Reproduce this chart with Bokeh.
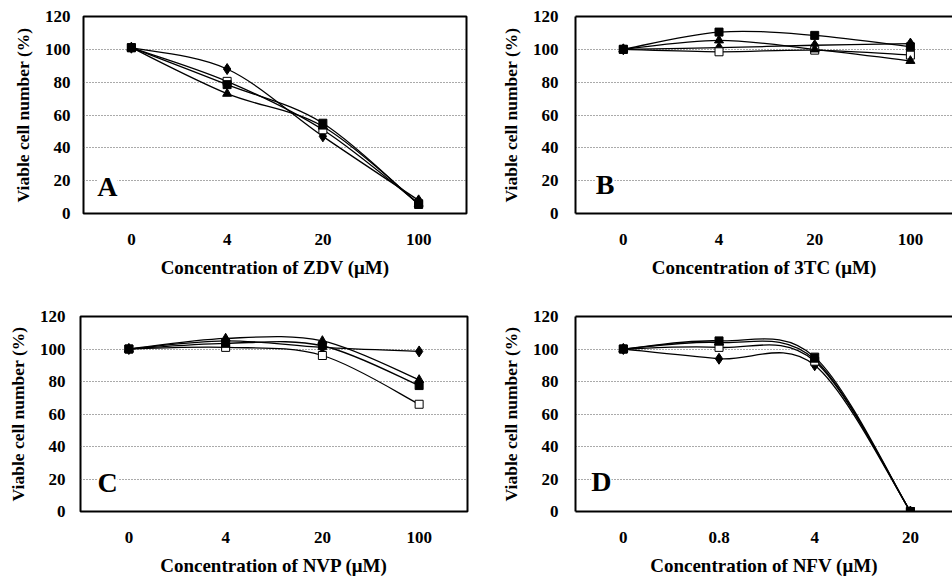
from bokeh.plotting import figure
from bokeh.layouts import column, row
from bokeh.models import FixedTicker, Range1d, Label, LinearAxis, ColumnDataSource
from bokeh.embed import file_html
from bokeh.resources import INLINE

# ---------------- data ----------------
y_ticks = [0, 20, 40, 60, 80, 100, 120]
grid_ticks = [20, 40, 60, 80, 100]

zdv_conc = ["0", "4", "20", "100"]
zdv_diamond = [101, 88, 47, 8]
zdv_open_sq = [101, 80.5, 51, 6]
zdv_filled_sq = [101, 78.5, 55, 5.5]
zdv_triangle = [101, 73, 53, 6]

tc_conc = ["0", "4", "20", "100"]
tc_diamond = [100, 101, 102.5, 103.5]
tc_open_sq = [100, 98.5, 99.5, 96.5]
tc_filled_sq = [100, 110.5, 108.5, 101.5]
tc_triangle = [100, 105.5, 100, 93]

nvp_conc = ["0", "4", "20", "100"]
nvp_diamond = [100, 105, 101, 98.5]
nvp_open_sq = [100, 101, 96, 66]
nvp_filled_sq = [100, 103.5, 102, 77.5]
nvp_triangle = [100, 106.5, 105, 81]

nfv_conc = ["0", "0.8", "4", "20"]
nfv_diamond = [100, 94, 90, 0]
nfv_open_sq = [100, 101, 92.5, 0]
nfv_filled_sq = [100, 105, 95, 0]
nfv_triangle = [100, 104, 93.5, 0]

FONT = "Liberation Serif"


def smooth_source(xs, ys, t=1.0 / 6.0):
    n = len(xs)
    d = dict(x0=[], y0=[], x1=[], y1=[], cx0=[], cy0=[], cx1=[], cy1=[])
    for i in range(n - 1):
        a = i - 1 if i > 0 else i
        b = i + 2 if i + 2 < n else i + 1
        d["x0"].append(xs[i]); d["y0"].append(ys[i])
        d["x1"].append(xs[i + 1]); d["y1"].append(ys[i + 1])
        d["cx0"].append(xs[i] + (xs[i + 1] - xs[a]) * t)
        d["cy0"].append(ys[i] + (ys[i + 1] - ys[a]) * t)
        d["cx1"].append(xs[i + 1] - (xs[b] - xs[i]) * t)
        d["cy1"].append(ys[i + 1] - (ys[b] - ys[i]) * t)
    return ColumnDataSource(d)


def panel(cats, series, xlabel, letter, lx, ly, width, height,
          bl, bt, bb, br, xend, open_right, ystand, xstand=20):
    xs = list(range(len(cats)))
    p = figure(width=width, height=height, output_backend="svg",
               toolbar_location=None, x_range=Range1d(-0.5, xend),
               y_range=Range1d(0, 120),
               min_border_left=bl, min_border_top=bt,
               min_border_bottom=bb, min_border_right=br)
    p.background_fill_color = "white"
    p.border_fill_color = "white"
    p.xgrid.visible = False
    p.ygrid.ticker = FixedTicker(ticks=grid_ticks)
    p.ygrid.grid_line_color = "#555555"
    p.ygrid.grid_line_dash = "1 2"
    p.ygrid.grid_line_width = 1

    for ax in (p.xaxis[0], p.yaxis[0]):
        ax.major_tick_line_color = None
        ax.minor_tick_line_color = None
        ax.major_tick_out = 0
        ax.major_label_text_font = FONT
        ax.major_label_text_font_style = "bold"
        ax.major_label_text_font_size = "17px"
        ax.major_label_text_color = "black"
        ax.axis_label_text_font = FONT
        ax.axis_label_text_font_style = "bold"
        ax.axis_label_text_color = "black"

    p.xaxis.ticker = FixedTicker(ticks=xs)
    p.xaxis.major_label_overrides = {i: c for i, c in enumerate(cats)}
    p.xaxis.axis_label = xlabel
    p.xaxis.axis_label_text_font_size = "19px"
    p.xaxis.major_label_standoff = xstand
    p.xaxis.axis_label_standoff = 9

    p.yaxis.ticker = FixedTicker(ticks=y_ticks)
    p.yaxis.axis_label = "Viable cell number (%)"
    p.yaxis.axis_label_text_font_size = "17.5px"
    p.yaxis.major_label_standoff = ystand
    p.yaxis.axis_label_standoff = 9

    if open_right:
        p.outline_line_color = None
        for ax in (p.xaxis[0], p.yaxis[0]):
            ax.axis_line_color = "black"
            ax.axis_line_width = 2
        top = LinearAxis(ticker=FixedTicker(ticks=[]), axis_line_width=2,
                         axis_line_color="black", major_tick_line_color=None,
                         minor_tick_line_color=None,
                         major_label_text_font_size="0px",
                         major_label_standoff=0)
        p.add_layout(top, "above")
    else:
        p.outline_line_color = "black"
        p.outline_line_width = 2
        p.xaxis.axis_line_color = None
        p.yaxis.axis_line_color = None

    p.add_layout(Label(x=lx, y=ly, text=letter, text_font=FONT,
                       text_font_style="bold", text_font_size="28px",
                       text_color="black",
                       text_align="center", text_baseline="middle",
                       background_fill_color="white"))

    styles = [
        ("diamond", 11, "black", "black"),
        ("square", 8, "white", "black"),
        ("square", 8, "black", "black"),
        ("triangle", 9, "black", "black"),
    ]
    for ys in series:
        src = smooth_source(xs, ys)
        p.bezier(x0="x0", y0="y0", x1="x1", y1="y1", cx0="cx0", cy0="cy0",
                 cx1="cx1", cy1="cy1", source=src, line_color="black",
                 line_width=1.3)
    for ys, (mk, sz, fill, line) in zip(series, styles):
        p.scatter(xs, ys, marker=mk, size=sz, fill_color=fill,
                  line_color=line, line_width=1)
    return p


pA = panel(zdv_conc, [zdv_diamond, zdv_open_sq, zdv_filled_sq, zdv_triangle],
           "Concentration of ZDV (\u03bcM)", "A", -0.25, 16.4,
           476, 290, 83, 15, 77, 10, 3.5, False, 13)
pB = panel(tc_conc, [tc_diamond, tc_open_sq, tc_filled_sq, tc_triangle],
           "Concentration of 3TC (\u03bcM)", "B", -0.19, 17.6,
           476, 290, 99, 16, 75, 0, 3.44, True, 17)
pC = panel(nvp_conc, [nvp_diamond, nvp_open_sq, nvp_filled_sq, nvp_triangle],
           "Concentration of NVP (\u03bcM)", "C", -0.22, 17.8,
           476, 288, 80, 24, 67, 9, 3.5, False, 15)
pD = panel(nfv_conc, [nfv_diamond, nfv_open_sq, nfv_filled_sq, nfv_triangle],
           "Concentration of NFV (\u03bcM)", "D", -0.23, 18.3,
           476, 288, 99, 26, 65, 0, 3.44, True, 17)

layout = column(row(pA, pB), row(pC, pD))
open("out.html", "w").write(file_html(layout, INLINE))
